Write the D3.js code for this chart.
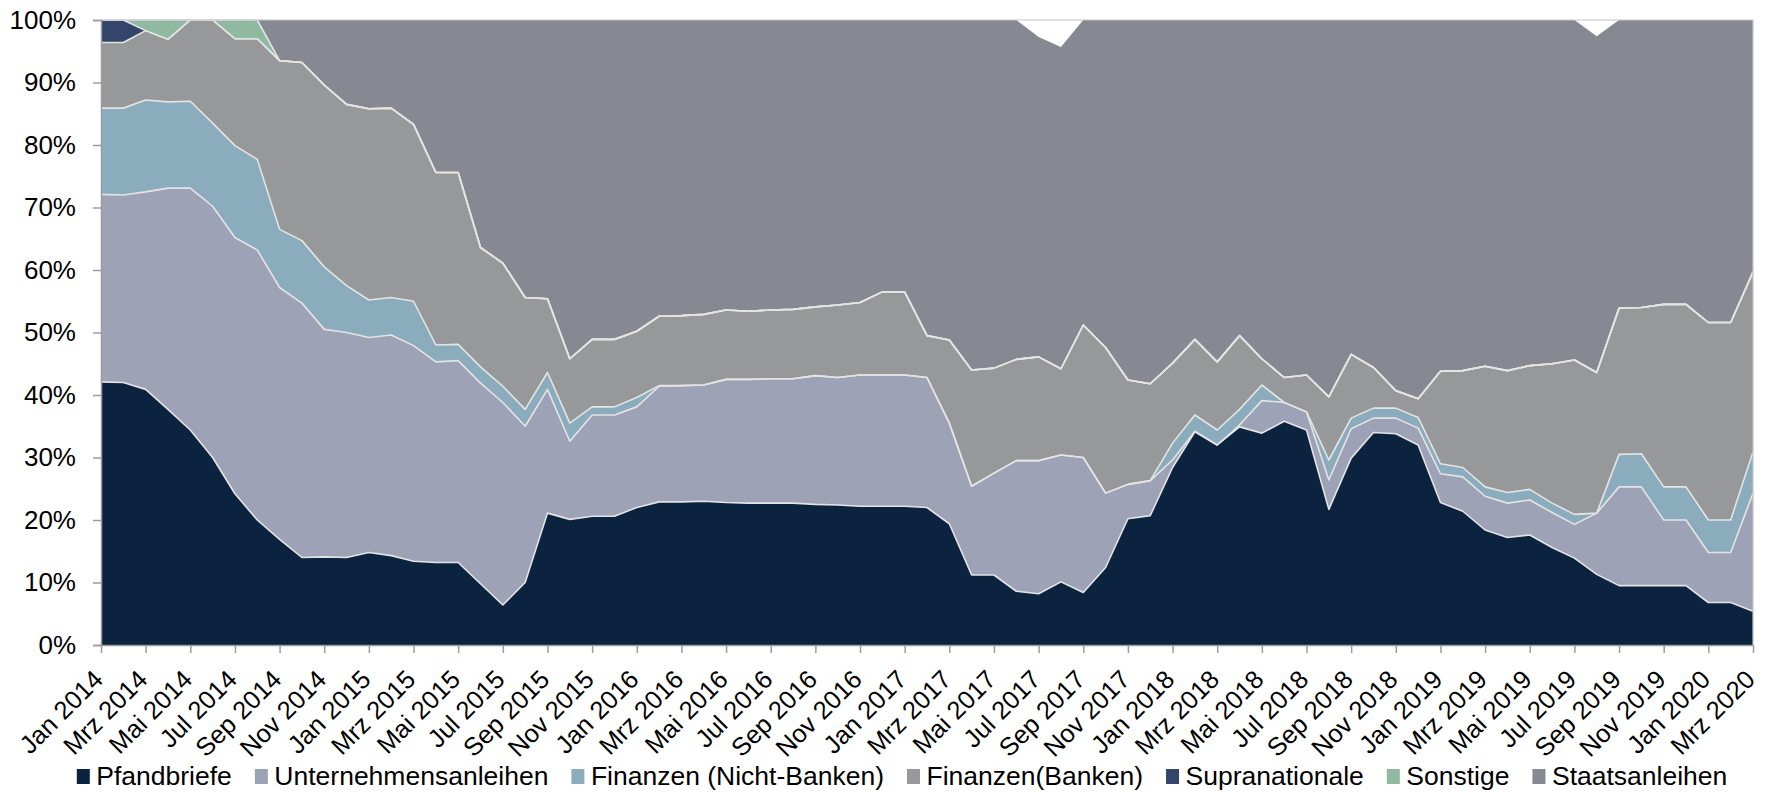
<!DOCTYPE html>
<html>
<head>
<meta charset="utf-8">
<script src="https://cdn.jsdelivr.net/npm/d3@7"></script>
<style>
    body { margin: 0; background: #fff; }
    svg { display: block; font-family: "Liberation Sans", Arial, sans-serif; }
</style>
</head>
<body>
<div class="chart"></div>
<script>
const monthNames = ["Jan", "Feb", "Mrz", "Apr", "Mai", "Jun", "Jul", "Aug", "Sep", "Okt", "Nov", "Dez"];
const years = [2014, 2015, 2016, 2017, 2018, 2019, 2020];
const months = years.flatMap(y => monthNames.map(m => `${m} ${y}`)).slice(0, 75);

const seriesNames = ["Pfandbriefe", "Unternehmensanleihen", "Finanzen (Nicht-Banken)", "Finanzen(Banken)",
    "Supranationale", "Sonstige", "Staatsanleihen"];
const seriesColors = ["#0b233f", "#9ea2b6", "#8aacbc", "#979899", "#33466a", "#8fb9a0", "#868892"];

// shares in %, Jan 2014 .. Mrz 2020
const pfandbriefe = [
    42.1, 42.0, 40.9, 37.7, 34.4, 30.0, 24.2, 20.0, 16.9, 14.0,
    14.1, 14.0, 14.8, 14.3, 13.4, 13.2, 13.2, 9.8, 6.4, 10.0,
    21.1, 20.1, 20.6, 20.6, 22.0, 22.9, 22.9, 23.0, 22.8, 22.7,
    22.7, 22.7, 22.5, 22.4, 22.2, 22.2, 22.2, 22.0, 19.4, 11.2,
    11.2, 8.6, 8.2, 10.1, 8.4, 12.4, 20.2, 20.7, 28.4, 34.1,
    32.0, 34.9, 33.9, 35.8, 34.4, 21.7, 29.9, 34.0, 33.8, 32.0,
    22.8, 21.4, 18.4, 17.2, 17.6, 15.6, 13.9, 11.3, 9.5, 9.5,
    9.5, 9.5, 6.8, 6.8, 5.4];
const unternehmensanleihen = [
    30.0, 30.0, 31.6, 35.4, 38.7, 40.2, 41.0, 43.2, 40.3, 40.7,
    36.4, 36.0, 34.4, 35.3, 34.5, 32.1, 32.3, 32.1, 32.4, 25.0,
    19.8, 12.5, 16.2, 16.2, 16.1, 18.5, 18.6, 18.6, 19.7, 19.8,
    19.9, 19.9, 20.6, 20.4, 21.0, 21.0, 21.0, 20.8, 16.1, 14.2,
    16.3, 20.9, 21.3, 20.3, 21.6, 11.9, 5.5, 5.6, 1.2, 0.1,
    0.0, 0.3, 5.2, 3.0, 2.9, 4.7, 4.7, 2.3, 2.5, 2.7,
    4.6, 5.5, 5.4, 5.5, 5.6, 5.6, 5.4, 9.8, 15.8, 15.8,
    10.5, 10.5, 8.0, 8.0, 18.9];
const finanzenNichtBanken = [
    13.8, 13.9, 14.7, 13.8, 13.9, 13.3, 14.7, 14.5, 9.3, 10.0,
    10.0, 7.5, 6.0, 6.0, 7.1, 2.7, 2.6, 2.6, 2.6, 2.7,
    2.7, 2.9, 1.3, 1.3, 1.5, 0.1, 0, 0, 0, 0,
    0, 0, 0, 0, 0, 0, 0, 0, 0, 0,
    0, 0, 0, 0, 0, 0, 0, 0, 2.7, 2.6,
    2.4, 2.5, 2.5, 0, 0, 3.2, 1.7, 1.6, 1.6, 1.7,
    1.6, 1.5, 1.5, 1.7, 1.7, 1.5, 1.6, 0, 5.2, 5.3,
    5.3, 5.3, 5.2, 5.2, 6.6];
const finanzenBanken = [
    10.5, 10.5, 11.1, 10.0, 13.0, 16.5, 17.1, 19.3, 27.0, 28.5,
    29.1, 29.0, 30.6, 30.3, 28.3, 27.6, 27.5, 19.1, 19.7, 17.9,
    11.8, 10.3, 10.8, 10.8, 10.6, 11.1, 11.2, 11.3, 11.1, 10.9,
    11.0, 11.1, 11.0, 11.6, 11.6, 13.3, 13.3, 6.7, 13.3, 18.6,
    16.8, 16.2, 16.6, 13.8, 21.2, 23.3, 16.7, 15.5, 12.8, 12.1,
    10.9, 11.8, 4.2, 4.0, 5.9, 10.1, 10.2, 6.5, 2.8, 3.0,
    14.8, 15.5, 19.3, 19.5, 19.8, 22.3, 24.7, 22.5, 23.4, 23.4,
    29.2, 29.2, 31.6, 31.6, 28.8];
const supranationale = [
    3.6, 3.6, 0, 0, 0, 0, 0, 0, 0, 0,
    0, 0, 0, 0, 0, 0, 0, 0, 0, 0,
    0, 0, 0, 0, 0, 0, 0, 0, 0, 0,
    0, 0, 0, 0, 0, 0, 0, 0, 0, 0,
    0, 0, 0, 0, 0, 0, 0, 0, 0, 0,
    0, 0, 0, 0, 0, 0, 0, 0, 0, 0,
    0, 0, 0, 0, 0, 0, 0, 0, 0, 0,
    0, 0, 0, 0, 0];
const sonstige = [
    0, 0, 1.7, 3.1, 0, 0, 3.0, 3.0, 0, 0,
    0, 0, 0, 0, 0, 0, 0, 0, 0, 0,
    0, 0, 0, 0, 0, 0, 0, 0, 0, 0,
    0, 0, 0, 0, 0, 0, 0, 0, 0, 0,
    0, 0, 0, 0, 0, 0, 0, 0, 0, 0,
    0, 0, 0, 0, 0, 0, 0, 0, 0, 0,
    0, 0, 0, 0, 0, 0, 0, 0, 0, 0,
    0, 0, 0, 0, 0];
const staatsanleihen = [
    0, 0, 0, 0, 0, 0, 0, 0, 6.5, 6.8,
    10.4, 13.5, 14.2, 14.1, 16.7, 24.4, 24.4, 36.4, 38.9, 44.4,
    44.6, 54.2, 51.1, 51.1, 49.8, 47.4, 47.3, 47.1, 46.4, 46.6,
    46.4, 46.3, 45.9, 45.6, 45.2, 43.5, 43.5, 50.5, 51.2, 56.0,
    55.7, 54.3, 51.2, 51.5, 48.8, 52.4, 57.6, 58.2, 54.9, 51.1,
    54.7, 50.5, 54.2, 57.2, 56.8, 60.3, 53.5, 55.6, 59.3, 60.6,
    56.2, 56.1, 55.4, 56.1, 55.3, 55.0, 54.4, 53.8, 46.1, 46.0,
    45.5, 45.5, 48.4, 48.4, 40.3];

const yTicks = [0, 10, 20, 30, 40, 50, 60, 70, 80, 90, 100];

const seriesValues = [pfandbriefe, unternehmensanleihen, finanzenNichtBanken, finanzenBanken,
    supranationale, sonstige, staatsanleihen];

const tableRows = months.map((m, i) => {
    const row = {month: m};
    seriesNames.forEach((name, k) => row[name] = seriesValues[k][i]);
    return row;
});

const dimensions = {
    width: 1773,
    height: 792,
    margin: {left: 101, right: 20, top: 20, bottom: 147}
};
const plotRight = dimensions.width - dimensions.margin.right;
const plotBottom = dimensions.height - dimensions.margin.bottom;

const svg = d3.select('.chart').append('svg')
    .attr('width', dimensions.width)
    .attr('height', dimensions.height);

const x = d3.scalePoint()
    .domain(months)
    .range([dimensions.margin.left, plotRight]);

const y = d3.scaleLinear()
    .domain([0, 100])
    .range([plotBottom, dimensions.margin.top]);

const stacked = d3.stack().keys(seriesNames)(tableRows);

const area = d3.area()
    .x(d => x(d.data.month))
    .y0(d => y(d[0]))
    .y1(d => y(d[1]));

const topLine = d3.line()
    .x(d => x(d.data.month))
    .y(d => y(d[1]));

svg.append('g')
    .selectAll('path')
    .data(stacked)
    .join('path')
    .attr('d', area)
    .attr('fill', (d, i) => seriesColors[i]);

// light separator lines between the layers
svg.append('g')
    .attr('fill', 'none')
    .attr('stroke', '#e4e4e4')
    .attr('stroke-width', 1.6)
    .attr('stroke-linejoin', 'round')
    .selectAll('path')
    .data(stacked.slice(0, seriesNames.length - 1))
    .join('path')
    .attr('d', topLine);

// frame top / right
svg.append('path')
    .attr('d', `M${dimensions.margin.left},${dimensions.margin.top}H${plotRight}V${plotBottom}`)
    .attr('fill', 'none')
    .attr('stroke', '#c4c4c4')
    .attr('stroke-width', 1.2);

const axisColor = '#9c9c9c';

svg.append('g')
    .attr('transform', `translate(${dimensions.margin.left},0)`)
    .call(d3.axisLeft(y).tickValues(yTicks).tickSize(8).tickPadding(17).tickFormat(d => d + '%'))
    .call(g => g.select('.domain').attr('stroke', axisColor).attr('stroke-width', 1.5))
    .call(g => g.selectAll('.tick line').attr('stroke', axisColor).attr('stroke-width', 1.5))
    .call(g => g.selectAll('.tick text')
        .attr('fill', '#000')
        .style('font-size', '26px'));

svg.append('g')
    .attr('transform', `translate(0,${plotBottom})`)
    .call(d3.axisBottom(x).tickValues(months.filter((d, i) => i % 2 === 0)).tickSize(8).tickSizeOuter(0))
    .call(g => g.select('.domain').attr('stroke', axisColor).attr('stroke-width', 1.5))
    .call(g => g.selectAll('.tick line').attr('stroke', axisColor).attr('stroke-width', 1.5))
    .call(g => g.selectAll('.tick text')
        .attr('fill', '#000')
        .style('font-size', '25.5px')
        .attr('text-anchor', 'end')
        .attr('x', 0)
        .attr('y', 0)
        .attr('dy', '0.72em')
        .attr('transform', 'translate(-10,23) rotate(-45)'));

// legend, centred under the chart
const legend = svg.append('g')
    .style('font-size', '26.5px');

const items = legend.selectAll('g')
    .data(seriesNames)
    .join('g');

items.append('rect')
    .attr('width', 13)
    .attr('height', 15)
    .attr('y', -16)
    .attr('fill', (d, i) => seriesColors[i]);

items.append('text')
    .attr('x', 19.5)
    .text(d => d);

let cursor = 0;
items.each(function () {
    const w = d3.select(this).select('text').node().getComputedTextLength();
    d3.select(this).attr('transform', `translate(${cursor},0)`);
    cursor += 19.5 + w + 23;
});
const legendWidth = cursor - 23;
legend.attr('transform', `translate(${(902 - legendWidth / 2).toFixed(1)},785)`);
</script>
</body>
</html>
